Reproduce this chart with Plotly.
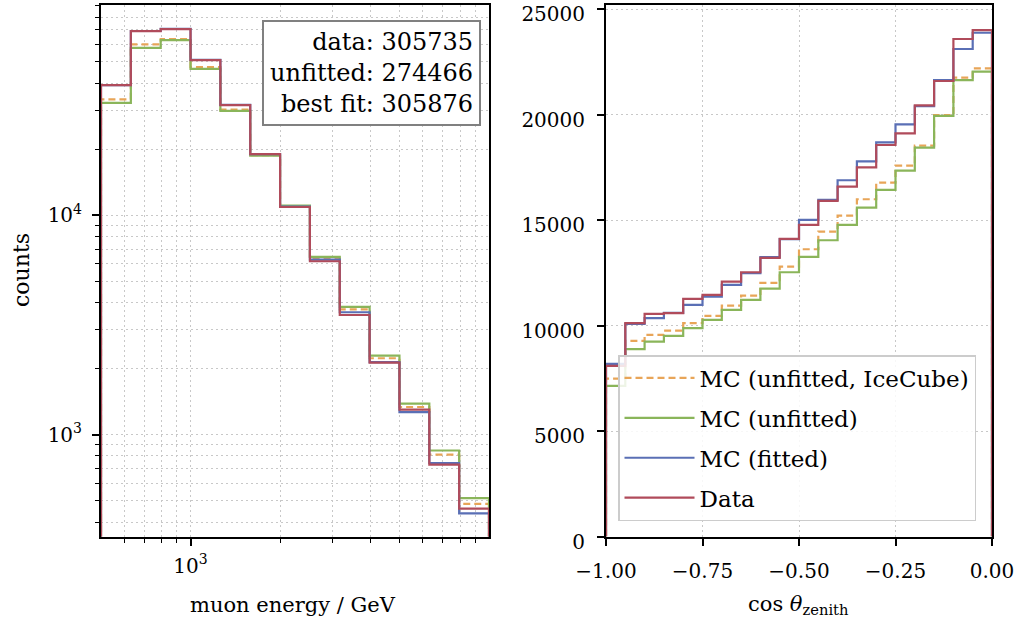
import numpy as np
import plotly.graph_objects as go

# ---------------- data ----------------
# muon energy histogram (log-spaced bins 10^2.7 ... 10^4)
energy_edges = np.logspace(2.7, 4.0, 14)
energy_mc_icecube = [33700, 60000, 63500, 47300, 30300, 18800, 11000, 6350, 3724, 2230, 1337, 811, 484]
energy_mc_unfitted = [32500, 57900, 62800, 46400, 29900, 18700, 11070, 6460, 3820, 2293, 1384, 847, 514]
energy_mc_fitted = [39200, 69100, 70600, 51000, 31800, 19000, 10950, 6280, 3614, 2140, 1268, 743, 438]
energy_data = [39170, 69000, 70500, 50900, 31750, 18970, 10900, 6170, 3510, 2130, 1300, 730, 460]

# cos(zenith) histogram (20 bins from -1 to 0)
zenith_edges = np.linspace(-1.0, 0.0, 21)
zenith_mc_icecube = [7488, 9274, 9559, 9762, 10113, 10459, 10947, 11421, 12023, 12795,
                     13620, 14454, 15212, 15990, 16776, 17582, 18529, 19980, 21752, 22197]
zenith_mc_unfitted = [7142, 8881, 9241, 9511, 9876, 10270, 10743, 11217, 11754, 12530,
                      13255, 14046, 14771, 15592, 16430, 17345, 18435, 19940, 21642, 22037]
zenith_mc_fitted = [8184, 10080, 10350, 10600, 10980, 11374, 11928, 12482, 13250, 14100,
                    15009, 15957, 16890, 17790, 18690, 19543, 20400, 21642, 23113, 23885]
zenith_data = [8090, 10113, 10554, 10587, 11265, 11454, 12085, 12530, 13208, 14108,
               14771, 15909, 16587, 17506, 18563, 19117, 20444, 21596, 23587, 24013]

totals_labels = ["data", "unfitted", "best fit"]
totals_values = [305735, 274466, 305876]

series_names = ["MC (unfitted, IceCube)", "MC (unfitted)", "MC (fitted)", "Data"]
series_colors = ["#E8A558", "#8AB55A", "#5A6FB5", "#B04B5B"]
series_dash = ["dash", "solid", "solid", "solid"]

FONT = "DejaVu Serif"


def step(edges, vals, floor):
    xs = [edges[0]] + list(edges) + [edges[-1]]
    ys = [floor] + list(vals) + [vals[-1], floor]
    return xs, ys


fig = go.Figure()

energy_sets = [energy_mc_icecube, energy_mc_unfitted, energy_mc_fitted, energy_data]
zenith_sets = [zenith_mc_icecube, zenith_mc_unfitted, zenith_mc_fitted, zenith_data]

for i, vals in enumerate(energy_sets):
    xs, ys = step(energy_edges, vals, 1)
    fig.add_trace(go.Scatter(x=xs, y=ys, mode="lines", line_shape="hv",
                             line=dict(color=series_colors[i], width=2.2,
                                       dash="7px,4px" if series_dash[i] == "dash" else "solid"),
                             xaxis="x", yaxis="y", showlegend=False, hoverinfo="skip"))

for i, vals in enumerate(zenith_sets):
    xs, ys = step(zenith_edges, vals, 0)
    fig.add_trace(go.Scatter(x=xs, y=ys, mode="lines", line_shape="hv", name=series_names[i],
                             legendgroup=f"g{i}",
                             line=dict(color=series_colors[i], width=2.2,
                                       dash="7px,4px" if series_dash[i] == "dash" else "solid"),
                             xaxis="x2", yaxis="y2", showlegend=True, hoverinfo="skip"))

W, H = 1020, 626
L1, R1 = 101, 489
L2, R2 = 606, 992
TOP, BOT = 5, 536.5

grid_col = "#c8c8c8"
grid_dash = "1.5px,3.5px"

e_minor = [500, 600, 700, 800, 900] + [k * 1000 for k in range(2, 10)]
y_minor = [k * 100 for k in range(3, 10)] + [k * 1000 for k in range(2, 10)] + [k * 10000 for k in range(2, 10)]

axis_common = dict(showline=True, linecolor="black", linewidth=2, mirror=True,
                   ticks="outside", tickcolor="black", tickwidth=1.5, ticklen=7,
                   tickfont=dict(family=FONT, size=20, color="black"),
                   zeroline=False, gridcolor=grid_col, griddash=grid_dash, gridwidth=1,
                   automargin=False, ticklabeloverflow="allow")

minor_common = dict(tickmode="array", ticks="outside", ticklen=4, tickwidth=1.2,
                    tickcolor="black", showgrid=True, gridcolor=grid_col,
                    griddash=grid_dash, gridwidth=1)

fig.update_layout(
    width=W, height=H,
    margin=dict(l=0, r=0, t=0, b=0, autoexpand=False),
    paper_bgcolor="white", plot_bgcolor="white",
    font=dict(family=FONT, color="black"),
    xaxis=dict(axis_common, type="log", range=[2.7, 4.0],
               domain=[L1 / W, R1 / W], anchor="y",
               tickmode="array", tickvals=[1000], ticktext=["10<sup>3</sup>"],
               showgrid=True, ticklabelstandoff=3,
               minor=dict(minor_common, tickvals=e_minor)),
    yaxis=dict(axis_common, type="log", range=[2.536, 4.958],
               domain=[1 - BOT / H, 1 - TOP / H], anchor="x",
               tickmode="array", tickvals=[1000, 10000], ticktext=["10<sup>3</sup>", "10<sup>4</sup>"],
               showgrid=True, ticklabelstandoff=6,
               minor=dict(minor_common, tickvals=y_minor)),
    xaxis2=dict(axis_common, range=[-1.0, 0.0],
                domain=[L2 / W, R2 / W], anchor="y2",
                tickmode="array", tickvals=[-1.0, -0.75, -0.5, -0.25, 0.0],
                ticktext=["\u22121.00", "\u22120.75", "\u22120.50", "\u22120.25", "0.00"],
                showgrid=True, ticklabelstandoff=8),
    yaxis2=dict(axis_common, range=[0, 25200],
                domain=[1 - BOT / H, 1 - TOP / H], anchor="x2",
                tickmode="array", tickvals=[0, 5000, 10000, 15000, 20000, 25000],
                ticktext=["0", "5000", "10000", "15000", "20000", "25000"],
                showgrid=True, ticklabelstandoff=8, ticklabelshift=5),
    legend=dict(x=618 / W, y=1 - 355 / H, xanchor="left", yanchor="top",
                bgcolor="rgba(255,255,255,0.85)", bordercolor="#cccccc", borderwidth=1.5,
                font=dict(family=FONT, size=23, color="black"),
                tracegroupgap=7, traceorder="grouped", itemwidth=70),
)

box_text = "<br>".join(f"{l}: {v}" for l, v in zip(totals_labels, totals_values))
fig.add_annotation(xref="paper", yref="paper", x=481 / W, y=1 - 20 / H,
                   xanchor="right", yanchor="top", text=box_text, showarrow=False,
                   align="right", font=dict(family=FONT, size=24, color="black"),
                   bordercolor="#808080", borderwidth=2, borderpad=6, bgcolor="white")

# axis titles
fig.add_annotation(xref="paper", yref="paper", x=293 / W, y=1 - 605 / H,
                   xanchor="center", yanchor="middle", showarrow=False,
                   text="muon energy / GeV", font=dict(family=FONT, size=21, color="black"))
fig.add_annotation(xref="paper", yref="paper", x=798 / W, y=1 - 605 / H,
                   xanchor="center", yanchor="middle", showarrow=False,
                   text="cos <i>\u03b8</i><sub>zenith</sub>", font=dict(family=FONT, size=21, color="black"))
fig.add_annotation(xref="paper", yref="paper", x=22 / W, y=1 - 270 / H,
                   xanchor="center", yanchor="middle", showarrow=False, textangle=-90,
                   text="counts", font=dict(family=FONT, size=22, color="black"))

fig.write_html("out.html")
